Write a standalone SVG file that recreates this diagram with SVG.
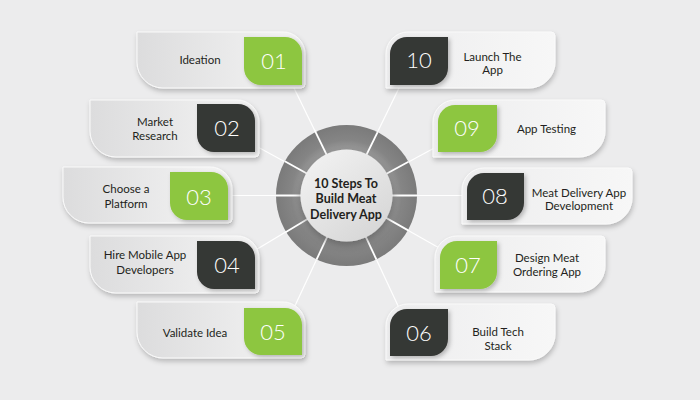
<svg xmlns="http://www.w3.org/2000/svg" width="700" height="400" viewBox="0 0 700 400">
<defs>
<linearGradient id="gl" x1="0" y1="0" x2="1" y2="0"><stop offset="0" stop-color="#dcdcdd"/><stop offset="1" stop-color="#f5f5f5"/></linearGradient>
<linearGradient id="gr" x1="0" y1="0" x2="1" y2="0"><stop offset="0" stop-color="#ededee"/><stop offset="1" stop-color="#f7f7f7"/></linearGradient>
<radialGradient id="ring" cx="346.5" cy="195.5" r="71" gradientUnits="userSpaceOnUse"><stop offset="0.62" stop-color="#a0a0a0"/><stop offset="0.78" stop-color="#858585"/><stop offset="1" stop-color="#7a7a7a"/></radialGradient>
<linearGradient id="inner" x1="0" y1="0" x2="0.8" y2="1"><stop offset="0" stop-color="#f4f4f4"/><stop offset="1" stop-color="#d6d6d6"/></linearGradient>
<filter id="sh" x="-10%" y="-20%" width="125%" height="150%"><feDropShadow dx="1" dy="3" stdDeviation="2.5" flood-color="#000" flood-opacity="0.22"/></filter>
<filter id="bsh" x="-20%" y="-20%" width="150%" height="150%"><feDropShadow dx="2" dy="2" stdDeviation="2" flood-color="#000" flood-opacity="0.25"/></filter>
<filter id="csh" x="-30%" y="-30%" width="160%" height="160%"><feDropShadow dx="0" dy="4" stdDeviation="4" flood-color="#000" flood-opacity="0.35"/></filter>
</defs>
<style>
.cl{fill:url(#gl);stroke:#fafafa;stroke-width:1;filter:url(#sh)}
.cr{fill:url(#gr);stroke:#fafafa;stroke-width:1;filter:url(#sh)}
.g{fill:#8dc63f;filter:url(#bsh)}
.d{fill:#363735;filter:url(#bsh)}
.t{font-family:Lato,"Open Sans",sans-serif;font-size:11.5px;fill:#231f20;text-anchor:middle}
.n{font-family:Lato,"Open Sans",sans-serif;font-weight:300;font-size:22px;fill:#ffffff;text-anchor:middle}
.c{font-family:Lato,"Open Sans",sans-serif;font-weight:700;font-size:12.5px;fill:#231f20;text-anchor:middle}
.ln{stroke:#ffffff;stroke-width:1.2;fill:none}
</style>
<rect width="700" height="400" fill="#ececed"/>
<g id="connectors">
<line class="ln" x1="346.5" y1="195.5" x2="293" y2="86"/>
<line class="ln" x1="346.5" y1="195.5" x2="256" y2="146"/>
<line class="ln" x1="346.5" y1="195.5" x2="226" y2="195.5"/>
<line class="ln" x1="346.5" y1="195.5" x2="254" y2="251"/>
<line class="ln" x1="346.5" y1="195.5" x2="293" y2="310"/>
<line class="ln" x1="346.5" y1="195.5" x2="400" y2="86"/>
<line class="ln" x1="346.5" y1="195.5" x2="438" y2="146"/>
<line class="ln" x1="346.5" y1="195.5" x2="468" y2="195.5"/>
<line class="ln" x1="346.5" y1="195.5" x2="441" y2="249"/>
<line class="ln" x1="346.5" y1="195.5" x2="400" y2="310"/>
</g>
<g id="center">
<circle cx="346.5" cy="195.5" r="70.5" fill="url(#ring)"/>
<g stroke="#ffffff" stroke-width="1.8">
<line x1="346.5" y1="195.5" x2="314.6" y2="130.2"/>
<line x1="346.5" y1="195.5" x2="284.8" y2="161.2"/>
<line x1="346.5" y1="195.5" x2="276" y2="195.5"/>
<line x1="346.5" y1="195.5" x2="285.2" y2="232.4"/>
<line x1="346.5" y1="195.5" x2="316.5" y2="259.7"/>
<line x1="346.5" y1="195.5" x2="377.6" y2="132.2"/>
<line x1="346.5" y1="195.5" x2="408.5" y2="161.7"/>
<line x1="346.5" y1="195.5" x2="417" y2="195.5"/>
<line x1="346.5" y1="195.5" x2="408.2" y2="230.4"/>
<line x1="346.5" y1="195.5" x2="376.4" y2="259.5"/>
</g>
<circle cx="346.5" cy="195.5" r="46" fill="url(#inner)" filter="url(#csh)"/>
<text class="c" x="346" y="188">10 Steps To</text>
<text class="c" x="346" y="203">Build Meat</text>
<text class="c" x="346" y="218.5">Delivery App</text>
</g>
<g id="step01">
<path class="cl" d="M137,32 H283 A22,22 0 0 1 305,54 V84 A4,4 0 0 1 301,88 H163 A26,26 0 0 1 137,62 Z"/>
<path class="g" d="M244,37 H285 A17,17 0 0 1 302,54 V85 H261 A17,17 0 0 1 244,68 Z"/>
<text class="n" x="274" y="69">01</text>
<text class="t" x="200" y="64">Ideation</text>
</g>
<g id="step02">
<path class="cl" d="M90,100 H237 A22,22 0 0 1 259,122 V153 A4,4 0 0 1 255,157 H116 A26,26 0 0 1 90,131 Z"/>
<path class="d" d="M197,104 H238 A17,17 0 0 1 255,121 V152 H214 A17,17 0 0 1 197,135 Z"/>
<text class="n" x="227" y="135.5">02</text>
<text class="t" x="155" y="126">Market</text>
<text class="t" x="155" y="139.5">Research</text>
</g>
<g id="step03">
<path class="cl" d="M63,167 H210 A22,22 0 0 1 232,189 V219 A4,4 0 0 1 228,223 H89 A26,26 0 0 1 63,197 Z"/>
<path class="g" d="M170,172 H211 A17,17 0 0 1 228,189 V220 H187 A17,17 0 0 1 170,203 Z"/>
<text class="n" x="199" y="204.5">03</text>
<text class="t" x="126" y="193">Choose a</text>
<text class="t" x="126" y="207.5">Platform</text>
</g>
<g id="step04">
<path class="cl" d="M90,236 H237 A22,22 0 0 1 259,258 V289 A4,4 0 0 1 255,293 H116 A26,26 0 0 1 90,267 Z"/>
<path class="d" d="M197,241 H238 A17,17 0 0 1 255,258 V289 H214 A17,17 0 0 1 197,272 Z"/>
<text class="n" x="227" y="273">04</text>
<text class="t" x="145" y="259">Hire Mobile App</text>
<text class="t" x="145" y="274">Developers</text>
</g>
<g id="step05">
<path class="cl" d="M137,302 H283 A22,22 0 0 1 305,324 V354 A4,4 0 0 1 301,358 H163 A26,26 0 0 1 137,332 Z"/>
<path class="g" d="M244,308 H285 A17,17 0 0 1 302,325 V355 H261 A17,17 0 0 1 244,338 Z"/>
<text class="n" x="273" y="340">05</text>
<text class="t" x="195" y="337">Validate Idea</text>
</g>
<g id="step10">
<path class="cr" d="M408,32 H551 A4,4 0 0 1 555,36 V62 A26,26 0 0 1 529,88 H386 V54 A22,22 0 0 1 408,32 Z"/>
<path class="d" d="M407,37 H448 V68 A17,17 0 0 1 431,85 H390 V54 A17,17 0 0 1 407,37 Z"/>
<text class="n" x="419" y="68">10</text>
<text class="t" x="492.5" y="60.5">Launch The</text>
<text class="t" x="492.5" y="74">App</text>
</g>
<g id="step09">
<path class="cr" d="M455,100 H601 A4,4 0 0 1 605,104 V131 A26,26 0 0 1 579,157 H433 V122 A22,22 0 0 1 455,100 Z"/>
<path class="g" d="M455,105 H497 V135 A17,17 0 0 1 480,152 H438 V122 A17,17 0 0 1 455,105 Z"/>
<text class="n" x="467" y="136">09</text>
<text class="t" x="546.5" y="133">App Testing</text>
</g>
<g id="step08">
<path class="cr" d="M484,168 H628 A4,4 0 0 1 632,172 V198 A26,26 0 0 1 606,224 H462 V190 A22,22 0 0 1 484,168 Z"/>
<path class="d" d="M484,173 H524 V203 A17,17 0 0 1 507,220 H467 V190 A17,17 0 0 1 484,173 Z"/>
<text class="n" x="495" y="204">08</text>
<text class="t" x="579" y="196.5">Meat Delivery App</text>
<text class="t" x="579" y="210">Development</text>
</g>
<g id="step07">
<path class="cr" d="M457,236 H601 A4,4 0 0 1 605,240 V266 A26,26 0 0 1 579,292 H435 V258 A22,22 0 0 1 457,236 Z"/>
<path class="g" d="M457,241 H497 V272 A17,17 0 0 1 480,289 H440 V258 A17,17 0 0 1 457,241 Z"/>
<text class="n" x="468" y="273">07</text>
<text class="t" x="547" y="262">Design Meat</text>
<text class="t" x="547" y="275.5">Ordering App</text>
</g>
<g id="step06">
<path class="cr" d="M408,304 H551 A4,4 0 0 1 555,308 V334 A26,26 0 0 1 529,360 H386 V326 A22,22 0 0 1 408,304 Z"/>
<path class="d" d="M407,309 H448 V339 A17,17 0 0 1 431,356 H390 V326 A17,17 0 0 1 407,309 Z"/>
<text class="n" x="419" y="340.5">06</text>
<text class="t" x="498" y="336">Build Tech</text>
<text class="t" x="498" y="349.5">Stack</text>
</g>
</svg>
